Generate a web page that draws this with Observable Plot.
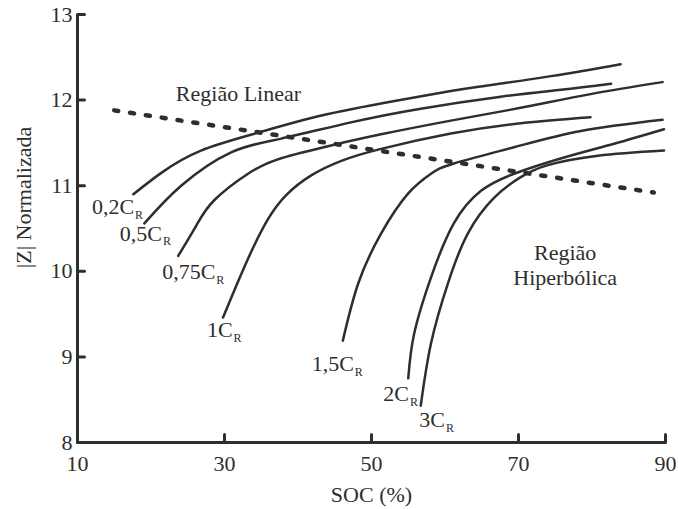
<!DOCTYPE html>
<html>
<head>
<meta charset="utf-8">
<script src="https://cdn.jsdelivr.net/npm/d3@7"></script>
<script src="https://cdn.jsdelivr.net/npm/@observablehq/plot@0.6"></script>
<style>
  html, body { margin: 0; padding: 0; background: #fff; }
  svg { display: block; }
  svg text { font-family: "Liberation Serif", "Times New Roman", serif; }
</style>
</head>
<body>
<div id="chart"></div>
<script>
// ---- data (SOC %, normalized |Z|) ----
const xTicks = [10, 30, 50, 70, 90];
const yTicks = [8, 9, 10, 11, 12, 13];

const c02 = [[17.6,10.90],[21.4,11.15],[26.8,11.41],[34.6,11.62],[42.2,11.80],[51.3,11.96],[60.4,12.10],[64.9,12.16],[74.4,12.28],[83.9,12.42]];
const c05 = [[19.1,10.56],[24.1,11.00],[30.9,11.39],[37.7,11.55],[47.2,11.74],[56.7,11.90],[67.6,12.04],[75.8,12.12],[82.6,12.19]];
const c075 = [[23.7,10.18],[26.2,10.54],[28.6,10.83],[33.2,11.14],[37.7,11.32],[44.5,11.47],[51.3,11.60],[60.8,11.76],[70.3,11.91],[79.8,12.07],[89.6,12.21]];
const c1 = [[29.8,9.46],[31.6,9.83],[33.7,10.24],[36.0,10.62],[38.4,10.89],[41.8,11.12],[45.9,11.29],[51.3,11.43],[60.8,11.61],[70.3,11.73],[79.8,11.80]];
const c15 = [[46.1,9.19],[48.2,9.86],[51.3,10.44],[55.0,10.91],[58.1,11.14],[61.2,11.26],[69.4,11.45],[78.5,11.64],[89.6,11.77]];
const c2 = [[55.0,8.75],[55.8,9.27],[58.1,9.93],[61.2,10.56],[64.9,10.94],[69.4,11.14],[76.2,11.33],[83.0,11.49],[89.8,11.66]];
const c3 = [[56.7,8.43],[58.1,9.16],[60.4,9.86],[63.1,10.44],[66.7,10.86],[70.3,11.10],[74.0,11.24],[80.8,11.35],[89.8,11.41]];
const boundary = [[15.0,11.88],[88.4,10.92]];

const seriesNames = ["0,2", "0,5", "0,75", "1", "1,5", "2", "3"];
const seriesData = [c02, c05, c075, c1, c15, c2, c3];
// label anchor (end of main text) in data coords
const labelX = [17.7, 21.5, 28.75, 31.1, 47.6, 55.1, 60.0];
const labelY = [10.75, 10.44, 9.99, 9.31, 8.92, 8.57, 8.26];

const regionText = ["Região Linear", "Região\nHiperbólica"];
const regionX = [31.9, 76.35];
const regionY = [12.08, 10.075];

// ---- build tables ----
const lines = seriesNames.flatMap((s, i) => seriesData[i].map(([x, y]) => ({series: s, x, y})));
const bound = boundary.map(([x, y]) => ({x, y}));
const labels = seriesNames.map((s, i) => ({main: s + "C", x: labelX[i], y: labelY[i]}));
const regions = regionText.map((t, i) => ({t, x: regionX[i], y: regionY[i]}));

const ink = "#2e2e2e";
const font = "Liberation Serif";
const tickShape = {draw(ctx, l) { ctx.moveTo(0, 0); ctx.lineTo(0, -l); }};

const chart = Plot.plot({
  width: 678,
  height: 509,
  marginTop: 14,
  marginRight: 13,
  marginBottom: 67,
  marginLeft: 77,
  style: {fontFamily: font, fontSize: "22px", color: ink, background: "#fff"},
  x: {domain: [10, 90]},
  y: {domain: [8, 13]},
  marks: [
    Plot.axisX(xTicks, {tickSize: 0, tickPadding: 13, fontSize: 22, fontFamily: font, tickFormat: d3.format("d"), label: null, fill: ink}),
    Plot.axisY(yTicks, {tickSize: 0, tickPadding: 5, fontSize: 22, fontFamily: font, tickFormat: d3.format("d"), label: null, fill: ink}),
    Plot.text(["SOC (%)"], {frameAnchor: "bottom", lineAnchor: "middle", dy: 52, fontSize: 22, fontFamily: font, fill: ink}),
    Plot.text(["|Z| Normalizada"], {frameAnchor: "left", textAnchor: "middle", lineAnchor: "middle", dx: -54, dy: -31, rotate: -90, fontSize: 22, fontFamily: font, fill: ink}),
    Plot.vector(xTicks, {x: d => d, frameAnchor: "bottom", rotate: 0, length: 8, anchor: "start", shape: tickShape, stroke: ink, strokeWidth: 3}),
    Plot.vector(yTicks, {y: d => d, frameAnchor: "left", rotate: 90, length: 7, anchor: "start", shape: tickShape, stroke: ink, strokeWidth: 3}),
    Plot.ruleX([10], {stroke: ink, strokeWidth: 3}),
    Plot.ruleY([8], {stroke: ink, strokeWidth: 3}),
    Plot.line(bound, {x: "x", y: "y", stroke: ink, strokeWidth: 4.5, strokeDasharray: "4,12", strokeLinecap: "round"}),
    Plot.line(lines, {x: "x", y: "y", z: "series", curve: "natural", stroke: ink, strokeWidth: 2.5}),
    Plot.text(labels, {x: "x", y: "y", text: "main", textAnchor: "end", fontSize: 22, fontFamily: font, fill: ink}),
    Plot.text(labels, {x: "x", y: "y", text: () => "R", textAnchor: "start", dx: 1, dy: 8, fontSize: 12, fontFamily: font, fill: ink}),
    Plot.text(regions, {x: "x", y: "y", text: "t", fontSize: 22, lineHeight: 1.14, fontFamily: font, fill: ink})
  ]
});
document.getElementById("chart").appendChild(chart);
</script>
</body>
</html>
